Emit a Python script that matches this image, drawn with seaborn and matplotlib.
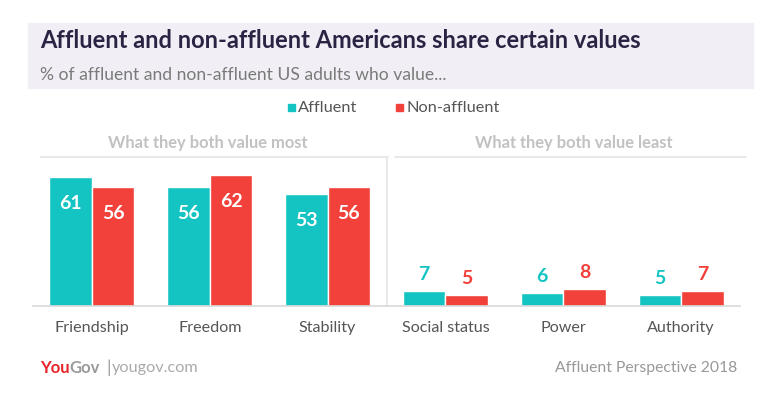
import pandas as pd
import matplotlib.pyplot as plt
import seaborn as sns
from matplotlib.patches import Rectangle
from matplotlib.lines import Line2D

# --------------------------------
# Data
# --------------------------------

values = ["Friendship", "Freedom", "Stability", "Social status", "Power", "Authority"]
affluent = [61, 56, 53, 7, 6, 5]
non_affluent = [56, 62, 56, 5, 8, 7]
groups = ["Affluent", "Non-affluent"]
sections = ["What they both value most", "What they both value least"]

teal = "#14c4c2"
red = "#f2403a"

df = pd.DataFrame({
    "value": values * 2,
    "pct": affluent + non_affluent,
    "group": [groups[0]] * len(values) + [groups[1]] * len(values),
})

# --------------------------------
# Figure
# --------------------------------

sns.set_style("white")
plt.rcParams["font.family"] = ["Lato", "DejaVu Sans"]

fig = plt.figure(figsize=(7.79, 3.96), dpi=100)
W, H = 779, 396

def fx(px):
    return px / W

def fy(py):
    return 1 - py / H

ax = fig.add_axes([fx(33), fy(306), fx(740) - fx(33), fy(157) - fy(306)])

sns.barplot(
    data=df, x="value", y="pct", hue="group",
    palette=[teal, red], width=0.72, saturation=1,
    ax=ax, legend=False,
)

ax.set_xlim(-0.5, 5.5)
ax.set_ylim(0, 70.4)
ax.set_xlabel("")
ax.set_ylabel("")
ax.set_yticks([])
for s in ["top", "right", "left"]:
    ax.spines[s].set_visible(False)
ax.spines["bottom"].set_color("#d9d9d9")
ax.spines["bottom"].set_linewidth(1.2)
ax.tick_params(axis="x", length=0, pad=11, labelsize=11.6, labelcolor="#555555")

# separator between the two sections
ax.axvline(2.5, color="#e6e6e6", lw=1.2)

# value labels
for container, col in zip(ax.containers, [teal, red]):
    for i, bar in enumerate(container):
        h = bar.get_height()
        cx = bar.get_x() + bar.get_width() / 2
        if i < 3:
            ax.annotate(f"{h:.0f}", (cx, h), xytext=(0, -19), textcoords="offset points",
                        ha="center", va="center", color="white",
                        fontsize=14, fontweight="bold")
        else:
            ax.annotate(f"{h:.0f}", (cx, h), xytext=(0, 12), textcoords="offset points",
                        ha="center", va="center", color=col,
                        fontsize=14, fontweight="bold")

# --------------------------------
# Header banner
# --------------------------------

fig.patches.append(Rectangle((fx(28), fy(88)), fx(753) - fx(28), fy(23) - fy(88),
                             transform=fig.transFigure, color="#f1eff5", zorder=0))
fig.text(fx(40), fy(41), "Affluent and non-affluent Americans share certain values",
         fontsize=17, fontweight="bold", color="#2b2344", va="center", ha="left")
fig.text(fx(40), fy(75), "% of affluent and non-affluent US adults who value...",
         fontsize=12.6, color="#7a7a7a", va="center", ha="left")

# legend
fig.patches.append(Rectangle((fx(288), fy(111)), fx(7) - fx(0), fy(0) - fy(7),
                             transform=fig.transFigure, color=teal))
fig.text(fx(298), fy(108), groups[0], fontsize=11.8, color="#555555", va="center")
fig.patches.append(Rectangle((fx(396), fy(111)), fx(7) - fx(0), fy(0) - fy(7),
                             transform=fig.transFigure, color=red))
fig.text(fx(407), fy(108), groups[1], fontsize=11.8, color="#555555", va="center")

# section headers
fig.text(fx(208), fy(143), sections[0], fontsize=11.9, fontweight="bold",
         color="#c2c2c2", ha="center", va="center")
fig.text(fx(574), fy(143), sections[1], fontsize=11.9, fontweight="bold",
         color="#c2c2c2", ha="center", va="center")
fig.lines.append(Line2D([fx(41), fx(388)], [fy(157), fy(157)],
                        transform=fig.transFigure, color="#e9e9e9", lw=1.5))
fig.lines.append(Line2D([fx(395), fx(746)], [fy(157), fy(157)],
                        transform=fig.transFigure, color="#e9e9e9", lw=1.5))

# --------------------------------
# Footer
# --------------------------------

t1 = fig.text(fx(40), fy(368), "You", fontsize=12, fontweight="bold",
              color="#e8242a", va="center")
fig.canvas.draw()
bb = t1.get_window_extent()
t2 = fig.text(bb.x1 / W, fy(368), "Gov", fontsize=12, fontweight="bold",
              color="#9a9a9a", va="center")
fig.text(fx(106), fy(368), "|", fontsize=13, color="#9a9a9a", va="center")
fig.text(fx(112), fy(368), "yougov.com", fontsize=11.7, color="#aaaaaa", va="center")
fig.text(fx(737), fy(368), "Affluent Perspective 2018", fontsize=11.3,
         color="#999999", va="center", ha="right")

fig.savefig("out.png", dpi=100)
